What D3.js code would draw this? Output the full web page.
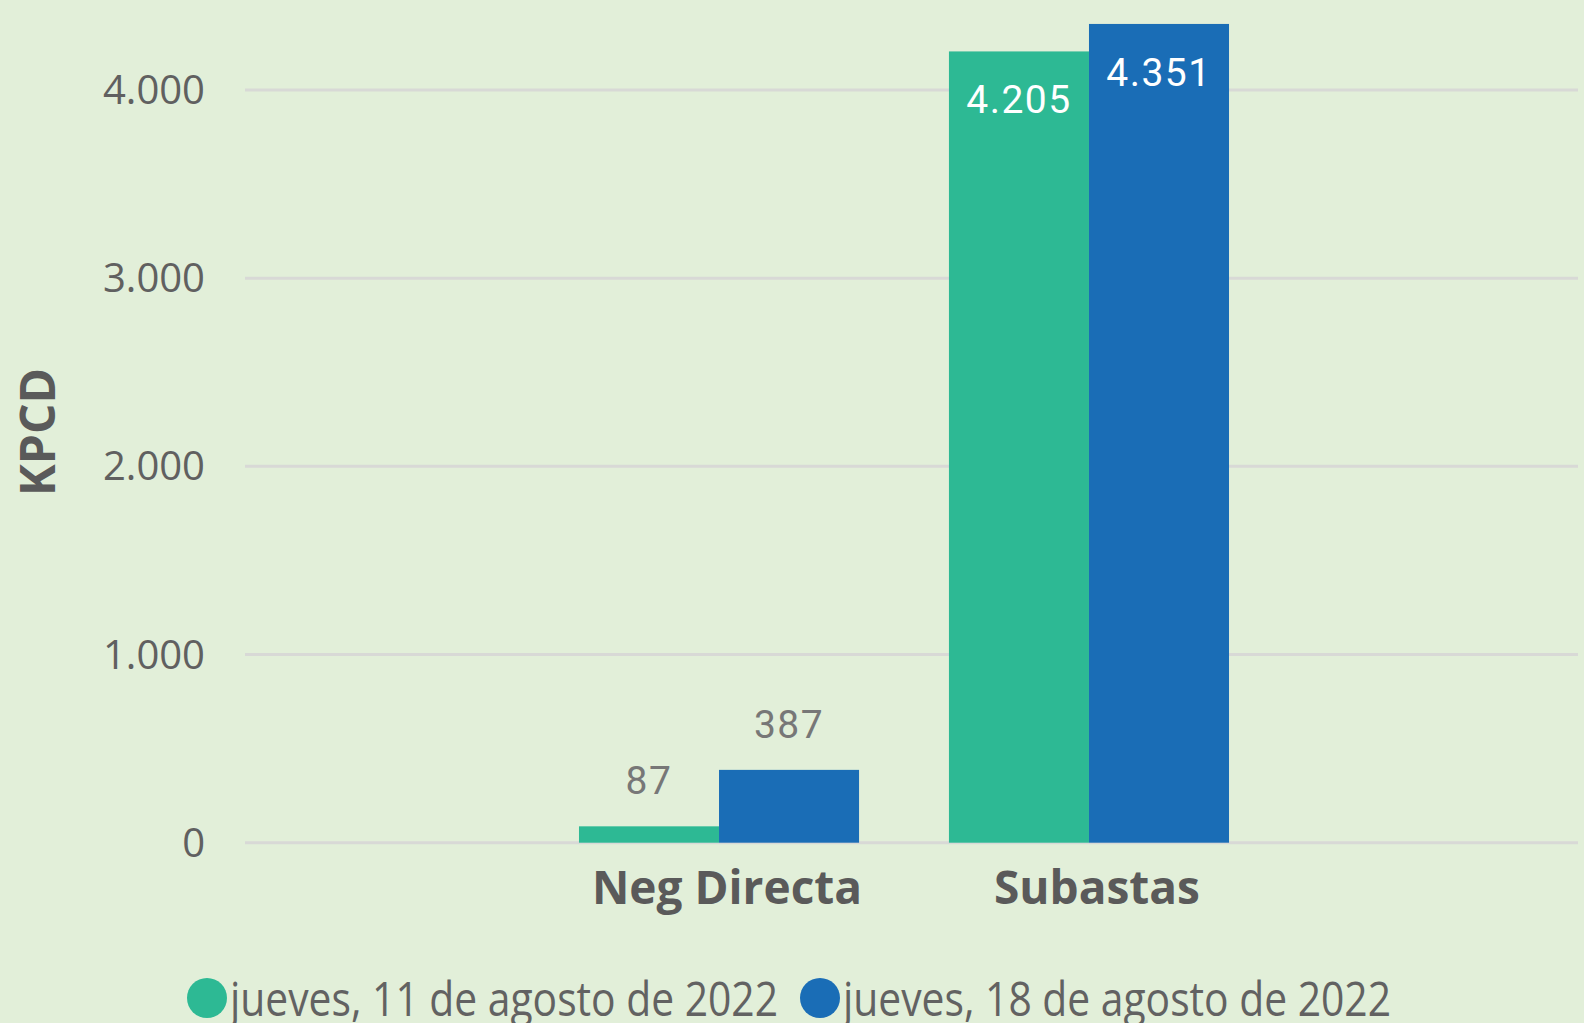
<!DOCTYPE html>
<meta charset="utf-8">
<style>
body { margin: 0; background: #e2efd9; }
svg { display: block; }
.grid line { stroke: #d8d9d6; stroke-width: 3px; }
.tick-label { font-family: "Open Sans", sans-serif; font-size: 40px; fill: #606060; }
.cat-label { font-family: "Open Sans", sans-serif; font-weight: bold; font-size: 46px; fill: #5a5a5a; }
.val { font-family: Roboto, sans-serif; font-size: 39px; letter-spacing: 1.5px; }
.legend { font-family: "Open Sans", sans-serif; font-size: 48px; fill: #626262; }
</style>
<svg width="1584" height="1023"></svg>
<script src="https://d3js.org/d3.v7.min.js"></script>
<script>
var categories = ["Neg Directa", "Subastas"];
var seriesNames = ["jueves, 11 de agosto de 2022", "jueves, 18 de agosto de 2022"];
var values11 = [87, 4205];
var values18 = [387, 4351];
var yTicks = [0, 1000, 2000, 3000, 4000];
var colors = ["#2db994", "#1a6db6"];

var svg = d3.select("svg");
svg.append("rect").attr("width", 1584).attr("height", 1023).attr("fill", "#e2efd9");

var locale = d3.formatLocale({decimal: ",", thousands: ".", grouping: [3], currency: ["", ""]});
var fmt = locale.format(",d");

var y = d3.scaleLinear().domain([0, 4000]).range([842.7, 90]);
var x0 = d3.scaleBand().domain(categories).range([534, 1274]).paddingInner(0.243).paddingOuter(0.1216);
var x1 = d3.scaleBand().domain([0, 1]).range([0, x0.bandwidth()]);

// gridlines
var grid = svg.append("g").attr("class", "grid");
grid.selectAll("line").data(yTicks).enter().append("line")
    .attr("x1", 245).attr("x2", 1578)
    .attr("y1", function(d) { return y(d); })
    .attr("y2", function(d) { return y(d); });

svg.append("g").selectAll("text").data(yTicks).enter().append("text")
    .attr("class", "tick-label")
    .attr("x", 205)
    .attr("y", function(d) { return y(d) + 14; })
    .attr("text-anchor", "end")
    .text(function(d) { return fmt(d); });

// axis title
svg.append("text")
    .attr("class", "cat-label")
    .attr("transform", "translate(55,432) rotate(-90)")
    .attr("text-anchor", "middle")
    .style("font-size", "48px")
    .text("KPCD");

var rows = categories.map(function(c, i) { return {cat: c, vals: [values11[i], values18[i]]}; });

var groups = svg.append("g").selectAll("g").data(rows).enter().append("g")
    .attr("transform", function(d) { return "translate(" + x0(d.cat) + ",0)"; });

groups.selectAll("rect").data(function(d) { return d.vals; }).enter().append("rect")
    .attr("x", function(d, i) { return x1(i); })
    .attr("width", x1.bandwidth())
    .attr("y", function(d) { return y(d); })
    .attr("height", function(d) { return y(0) - y(d); })
    .attr("fill", function(d, i) { return colors[i]; });

groups.selectAll("text.val").data(function(d) { return d.vals; }).enter().append("text")
    .attr("class", "val")
    .attr("text-anchor", "middle")
    .attr("x", function(d, i) { return x1(i) + x1.bandwidth() / 2; })
    .attr("y", function(d) { return d > 1000 ? y(d) + 62 : y(d) - 32; })
    .attr("fill", function(d) { return d > 1000 ? "#ffffff" : "#777777"; })
    .text(function(d) { return fmt(d); });

svg.append("g").selectAll("text").data(categories).enter().append("text")
    .attr("class", "cat-label")
    .attr("x", function(d) { return x0(d) + x0.bandwidth() / 2 + 8; })
    .attr("y", 904)
    .attr("text-anchor", "middle")
    .text(function(d) { return d; });

// legend
var legendX = [207, 820];
var lg = svg.append("g").selectAll("g").data(seriesNames).enter().append("g")
    .attr("transform", function(d, i) { return "translate(" + legendX[i] + ",998)"; });
lg.append("circle").attr("r", 20).attr("fill", function(d, i) { return colors[i]; });
lg.append("text")
    .attr("class", "legend")
    .attr("x", 23)
    .attr("y", 18)
    .attr("textLength", 548)
    .attr("lengthAdjust", "spacingAndGlyphs")
    .text(function(d) { return d; });
</script>
